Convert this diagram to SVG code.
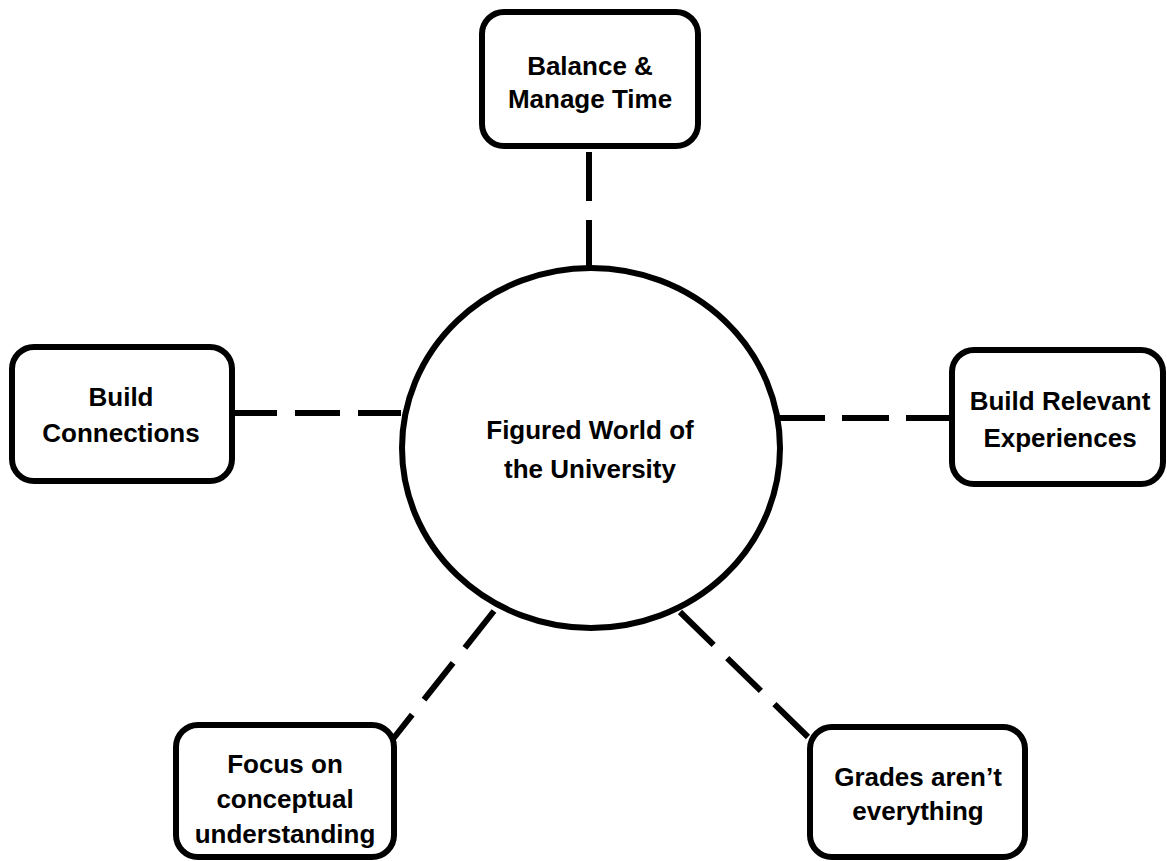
<svg xmlns="http://www.w3.org/2000/svg" width="1167" height="861" viewBox="0 0 1167 861">
<style>
.box{fill:#fff;stroke:#000;stroke-width:6}
.hub{fill:#fff;stroke:#000;stroke-width:6}
.lbl{font-family:"Liberation Sans",Arial,sans-serif;font-weight:bold;font-size:26px;fill:#000;text-anchor:middle}
.con{stroke:#000;stroke-width:6;fill:none}
</style>
<rect width="1167" height="861" fill="#fff"/>
<g id="connectors">
<line class="con" x1="589" y1="152" x2="589" y2="268" stroke-dasharray="49 19"/>
<line class="con" x1="232" y1="413" x2="401" y2="413" stroke-dasharray="45 18"/>
<line class="con" x1="778" y1="418" x2="952" y2="418" stroke-dasharray="47 17"/>
<line class="con" x1="494" y1="611" x2="393" y2="739" stroke-dasharray="47 19"/>
<line class="con" x1="680" y1="612" x2="808" y2="737" stroke-dasharray="47 19"/>
</g>
<g id="hub">
<ellipse class="hub" cx="591" cy="448" rx="189" ry="180"/>
<text class="lbl" x="590" y="439">Figured World of</text>
<text class="lbl" x="590" y="478">the University</text>
</g>
<g id="node-balance">
<rect class="box" x="482" y="12" width="216" height="134" rx="22"/>
<text class="lbl" x="590" y="75">Balance &amp;</text>
<text class="lbl" x="590" y="108">Manage Time</text>
</g>
<g id="node-connections">
<rect class="box" x="12" y="347" width="220" height="134" rx="22"/>
<text class="lbl" x="121" y="406">Build</text>
<text class="lbl" x="121" y="442">Connections</text>
</g>
<g id="node-experiences">
<rect class="box" x="952" y="350" width="211" height="134" rx="22"/>
<text class="lbl" x="1060" y="410">Build Relevant</text>
<text class="lbl" x="1060" y="447">Experiences</text>
</g>
<g id="node-conceptual">
<rect class="box" x="176" y="725" width="218" height="132" rx="22"/>
<text class="lbl" x="285" y="773">Focus on</text>
<text class="lbl" x="285" y="808">conceptual</text>
<text class="lbl" x="285" y="843">understanding</text>
</g>
<g id="node-grades">
<rect class="box" x="810" y="727" width="215" height="130" rx="22"/>
<text class="lbl" x="918" y="786">Grades aren’t</text>
<text class="lbl" x="918" y="820">everything</text>
</g>
</svg>
